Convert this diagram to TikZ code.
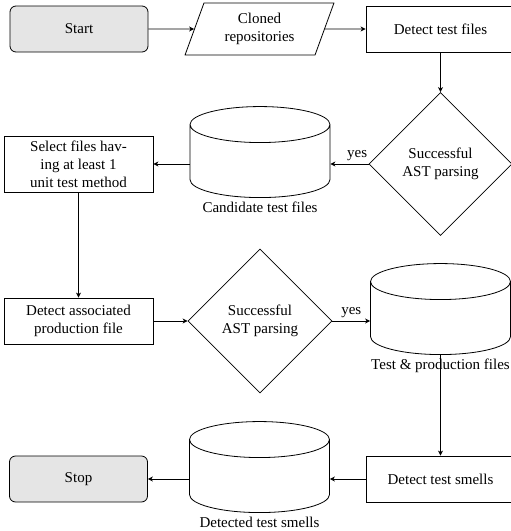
\documentclass[tikz,border=0pt]{standalone}
\usepackage{fontspec}
\setmainfont{Liberation Serif}
\usetikzlibrary{shapes.geometric,arrows.meta}

\begin{document}
\begin{tikzpicture}[x=1pt,y=-1pt,line width=0.8pt,
  >={Stealth[length=5pt,width=5pt,inset=1.5pt]},
  font=\fontsize{15}{18}\selectfont,
  terminal/.style={draw,rounded corners=6pt,fill=gray!20,minimum width=138pt,minimum height=46pt},
  process/.style={draw,minimum width=149pt,minimum height=46pt,align=center,inner sep=2pt},
  inout/.style={draw,trapezium,trapezium left angle=70,trapezium right angle=110,minimum width=149pt,minimum height=46pt,align=center,inner sep=1pt},
  decision/.style={draw,diamond,minimum width=143pt,minimum height=143pt,align=center,inner sep=0pt},
  store/.style={draw,cylinder,shape border rotate=90,aspect=5.4,minimum width=140pt,minimum height=91pt,label distance=0pt}]
\useasboundingbox (0,0) rectangle (511,531);
\node[terminal] (start) at (79,29) {Start};
\node[inout] (clone) at (259.5,29) {Cloned\\repositories};
\node[process] (detect) at (440.5,29) {Detect test files};
\node[decision] (ast1) at (440.5,164) {Successful\\AST parsing};
\node[store,label=below:Candidate test files] (cand) at (260,164) {};
\node[process,minimum height=56pt] (select) at (78.5,164) {Select files hav-\\ing at least 1\\unit test method};
\node[process] (assoc) at (78.5,321) {Detect associated\\production file};
\node[decision,minimum width=144pt,minimum height=144pt] (ast2) at (260,321) {Successful\\AST parsing};
\node[store,label=below:Test \& production files] (both) at (440.5,321) {};
\node[process] (smells) at (440.5,479) {Detect test smells};
\node[store,label=below:Detected test smells] (found) at (259.5,479) {};
\node[terminal] (stop) at (78.5,479) {Stop};
\draw[->] (start) -- (clone);
\draw[->] (clone) -- (detect);
\draw[->] (detect) -- (ast1);
\draw[->] (ast1) -- node[above,pos=0.3]{yes} (cand);
\draw[->] (cand) -- (select);
\draw[->] (select) -- (assoc);
\draw[->] (assoc) -- (ast2);
\draw[->] (ast2) -- node[above]{yes} (both);
\draw[->] (both) -- (smells);
\draw[->] (smells) -- (found);
\draw[->] (found) -- (stop);
\end{tikzpicture}
\end{document}
